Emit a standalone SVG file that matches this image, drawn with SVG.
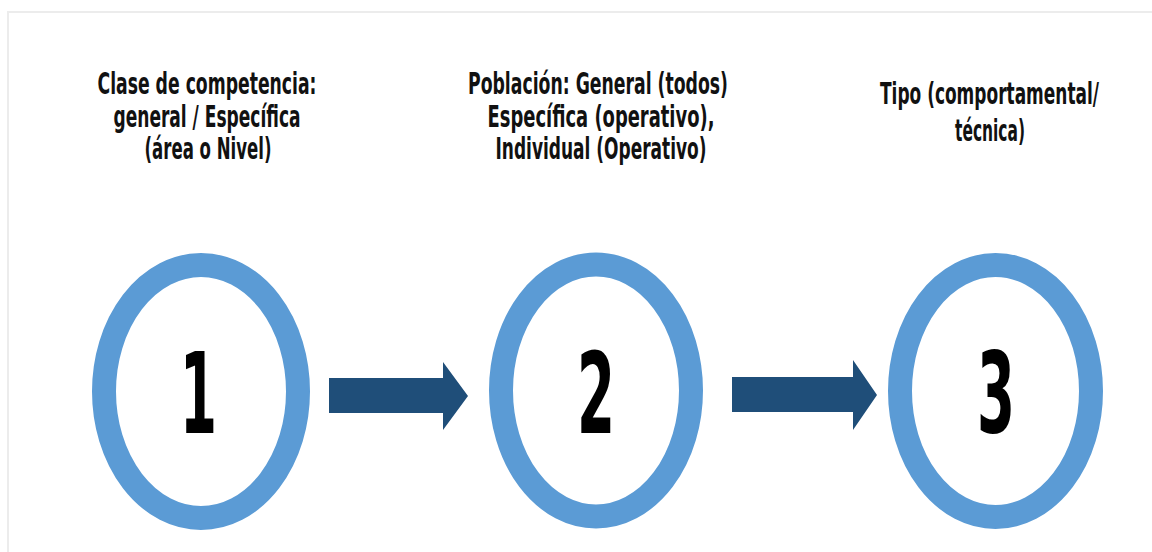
<svg xmlns="http://www.w3.org/2000/svg" width="1152" height="552" viewBox="0 0 1152 552">
  <style>
    .frame { fill: #ffffff; stroke: #ececec; stroke-width: 2; }
    .ring { fill: #ffffff; stroke: #5b9bd5; stroke-width: 24; }
    .arrow { fill: #1f4e79; }
    .label { font-family: "Liberation Sans Narrow", "DejaVu Sans Condensed", "Liberation Sans", sans-serif; font-weight: bold; font-size: 30px; fill: #111111; text-anchor: middle; }
    .num { font-family: "Liberation Sans Narrow", "DejaVu Sans Condensed", "Liberation Sans", sans-serif; font-weight: bold; font-size: 112px; fill: #000000; text-anchor: middle; }
  </style>
  <rect x="0" y="0" width="1152" height="552" fill="#ffffff"/>
  <rect class="frame" x="8" y="12" width="1160" height="560"/>

  <g id="connectors">
    <path class="arrow" d="M329,378 H443 V362 L468,396 L443,430 V413 H329 Z"/>
    <path class="arrow" d="M732,377 H853 V360 L877,395 L853,430 V412 H732 Z"/>
  </g>

  <g id="step1">
    <text class="label" x="207" y="94" textLength="219" lengthAdjust="spacingAndGlyphs">Clase de competencia:</text>
    <text class="label" x="207" y="127" textLength="187" lengthAdjust="spacingAndGlyphs">general / Específica</text>
    <text class="label" x="208" y="159" textLength="127" lengthAdjust="spacingAndGlyphs">(área o Nivel)</text>
    <ellipse class="ring" cx="201" cy="391.5" rx="97" ry="126.5"/>
    <text class="num" x="198.5" y="433" textLength="37" lengthAdjust="spacingAndGlyphs">1</text>
  </g>

  <g id="step2">
    <text class="label" x="598" y="94" textLength="260" lengthAdjust="spacingAndGlyphs">Población: General (todos)</text>
    <text class="label" x="601" y="127" textLength="227" lengthAdjust="spacingAndGlyphs">Específica (operativo),</text>
    <text class="label" x="601" y="159" textLength="211" lengthAdjust="spacingAndGlyphs">Individual (Operativo)</text>
    <ellipse class="ring" cx="596" cy="390.5" rx="95" ry="126"/>
    <text class="num" x="596" y="433" textLength="38" lengthAdjust="spacingAndGlyphs">2</text>
  </g>

  <g id="step3">
    <text class="label" x="989.5" y="104" textLength="219" lengthAdjust="spacingAndGlyphs">Tipo (comportamental/</text>
    <text class="label" x="990" y="141" textLength="70" lengthAdjust="spacingAndGlyphs">técnica)</text>
    <ellipse class="ring" cx="995.5" cy="391" rx="95.5" ry="126"/>
    <text class="num" x="996" y="432" textLength="38" lengthAdjust="spacingAndGlyphs">3</text>
  </g>
</svg>
